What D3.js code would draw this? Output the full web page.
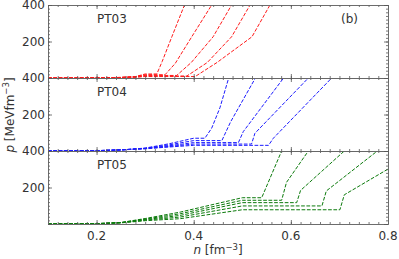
<!DOCTYPE html>
<html>
<head>
<meta charset="utf-8">
<script src="https://cdn.jsdelivr.net/npm/d3@7"></script>
<style>
  body { margin: 0; background: #fff; }
  text { font-family: "DejaVu Sans", sans-serif; fill: #333; }
</style>
</head>
<body>
<div id="chart"></div>
<script>
const w = 399;
const h = 259;
const left = 48, right = 388;
const panelTop = 5, panelH = 73;

const panelNames = ["PT03", "PT04", "PT05"];
const panelColors = ["#ff1a1a", "#1a1aff", "#0b7a0b"];
const xTicks = [0.2, 0.4, 0.6, 0.8];
const yTicks = [200, 400];

// PT03 curves, [n, p]
const pt03 = [
    [[0.1,0],[0.2,1],[0.25,3],[0.28,8],[0.3,22],[0.324,22],[0.335,90],[0.355,226],[0.381,400]],
    [[0.1,0],[0.2,1],[0.25,3],[0.28,7],[0.3,18],[0.341,18],[0.362,80],[0.396,226],[0.437,400]],
    [[0.1,0],[0.2,1],[0.25,3],[0.28,6],[0.3,14],[0.365,14],[0.395,85],[0.440,226],[0.478,400]],
    [[0.1,0],[0.2,1],[0.25,3],[0.28,5],[0.3,11],[0.386,11],[0.428,85],[0.478,226],[0.516,400]],
    [[0.1,0],[0.2,1],[0.25,3],[0.28,4],[0.3,8],[0.403,8],[0.448,85],[0.520,226],[0.557,400]]
];
// PT04 curves
const pt04 = [
    [[0.1,0],[0.2,2],[0.25,6],[0.3,16],[0.35,40],[0.40,70],[0.423,70],[0.437,125],[0.454,237],[0.472,400]],
    [[0.1,0],[0.2,2],[0.25,6],[0.3,15],[0.35,34],[0.40,57],[0.458,57],[0.476,160],[0.527,400]],
    [[0.1,0],[0.2,2],[0.25,6],[0.3,14],[0.35,29],[0.40,46],[0.492,46],[0.502,106],[0.585,400]],
    [[0.1,0],[0.2,2],[0.25,6],[0.3,13],[0.35,25],[0.40,38],[0.519,38],[0.526,97],[0.636,400]],
    [[0.1,0],[0.2,2],[0.25,6],[0.3,12],[0.35,22],[0.40,31],[0.554,31],[0.564,70],[0.684,400]]
];
// PT05 curves
const pt05 = [
    [[0.1,0],[0.2,2],[0.25,8],[0.3,30],[0.372,65],[0.5,144],[0.540,144],[0.581,400]],
    [[0.1,0],[0.2,2],[0.25,8],[0.3,27],[0.372,56],[0.5,130],[0.581,130],[0.591,228],[0.636,400]],
    [[0.1,0],[0.2,2],[0.25,7],[0.3,24],[0.372,47],[0.5,117],[0.612,117],[0.620,184],[0.710,400]],
    [[0.1,0],[0.2,2],[0.25,7],[0.3,21],[0.372,38],[0.5,99],[0.664,99],[0.673,181],[0.778,400]],
    [[0.1,0],[0.2,2],[0.25,6],[0.3,18],[0.372,29],[0.5,78],[0.701,78],[0.710,160],[0.8,301]]
];
const panelData = [pt03, pt04, pt05];

const svg = d3.select("#chart")
    .append("svg")
    .attr("width", w)
    .attr("height", h);

const x = d3.scaleLinear().domain([0.1, 0.8]).range([left, right]);
const xMinor = d3.range(0.1, 0.8001, 0.02).map(v => +v.toFixed(2));
const yMinor = d3.range(0, 401, 20);

panelData.forEach((curves, i) => {
    const top = panelTop + i * panelH;
    const y = d3.scaleLinear().domain([0, 400]).range([top + panelH, top]);
    const g = svg.append("g");

    g.append("clipPath").attr("id", "clip" + i)
        .append("rect")
        .attr("x", left).attr("y", top)
        .attr("width", right - left).attr("height", panelH);

    const line = d3.line().x(d => x(d[0])).y(d => y(d[1]));
    g.append("g").attr("clip-path", "url(#clip" + i + ")")
        .selectAll("path")
        .data(curves)
        .join("path")
        .attr("d", line)
        .attr("fill", "none")
        .attr("stroke", panelColors[i])
        .attr("stroke-width", 1)
        .attr("stroke-dasharray", "3.7,1.6");

    // ticks, all pointing inward
    const axes = [
        [d3.axisBottom(x).tickValues(xMinor), top + panelH, 0, -2],
        [d3.axisBottom(x).tickValues(xTicks), top + panelH, 0, -4],
        [d3.axisTop(x).tickValues(xMinor), top, 0, -2],
        [d3.axisTop(x).tickValues(xTicks), top, 0, -4],
        [d3.axisLeft(y).tickValues(yMinor), 0, left, -2],
        [d3.axisLeft(y).tickValues([0, 200, 400]), 0, left, -4],
        [d3.axisRight(y).tickValues(yMinor), 0, right, -2],
        [d3.axisRight(y).tickValues([0, 200, 400]), 0, right, -4]
    ];
    axes.forEach(a => {
        const ax = g.append("g")
            .attr("transform", "translate(" + a[2] + "," + a[1] + ")")
            .call(a[0].tickSize(a[3]).tickSizeOuter(0).tickFormat(""));
        ax.selectAll("line").attr("stroke", "#555").attr("stroke-width", 0.8);
        ax.select(".domain").attr("stroke", "#666").attr("stroke-width", 0.8);
    });

    // y tick labels
    g.selectAll(".ylab")
        .data(yTicks)
        .join("text")
        .attr("x", left - 3)
        .attr("y", d => y(d))
        .attr("dy", "0.35em")
        .attr("text-anchor", "end")
        .attr("font-size", 12)
        .text(d => d);

    g.append("text")
        .attr("x", 97)
        .attr("y", top + 18)
        .attr("font-size", 12)
        .text(panelNames[i]);

    if (i === 2) {
        g.selectAll(".xlab")
            .data(xTicks)
            .join("text")
            .attr("x", d => x(d))
            .attr("y", top + panelH + 16)
            .attr("text-anchor", "middle")
            .attr("font-size", 12)
            .text(d => d3.format(".1f")(d));
    }
});

svg.append("text")
    .attr("x", 341)
    .attr("y", 23)
    .attr("font-size", 12)
    .text("(b)");

// axis titles
const xt = svg.append("text")
    .attr("x", (left + right) / 2)
    .attr("y", 254)
    .attr("text-anchor", "middle")
    .attr("font-size", 12);
xt.append("tspan").attr("font-style", "italic").text("n");
xt.append("tspan").text(" [fm");
xt.append("tspan").attr("font-size", 8.5).attr("dy", -4).text("\u22123");
xt.append("tspan").attr("dy", 4).text("]");

const yt = svg.append("text")
    .attr("transform", "translate(14,115) rotate(-90)")
    .attr("text-anchor", "middle")
    .attr("font-size", 12);
yt.append("tspan").attr("font-style", "italic").text("p");
yt.append("tspan").text(" [MeVfm");
yt.append("tspan").attr("font-size", 8.5).attr("dy", -5).text("\u22123");
yt.append("tspan").attr("dy", 5).text("]");
</script>
</body>
</html>
